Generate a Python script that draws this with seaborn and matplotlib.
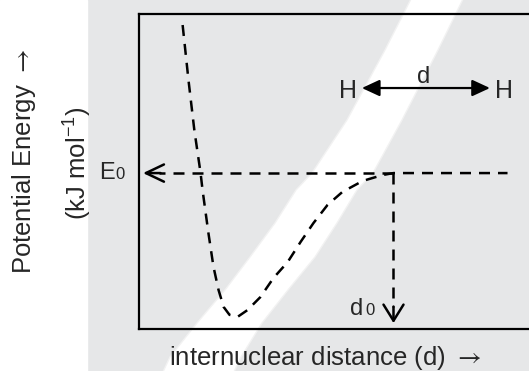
import matplotlib
matplotlib.use('Agg')
import matplotlib.pyplot as plt
from matplotlib.patches import Polygon, Rectangle
import seaborn as sns
import numpy as np

# potential energy curve (arbitrary units)
distance = [1.13, 1.28, 1.43, 1.59, 1.64, 1.79, 1.92, 2.05, 2.18, 2.33, 2.54, 2.79,
            3.12, 3.46, 3.82, 4.15, 4.48, 4.84, 5.22, 5.74, 6.25, 6.53, 7.99, 9.45]
energy = [7.72, 6.32, 5.05, 3.96, 3.53, 2.44, 1.58, 0.99, 0.56, 0.36, 0.31, 0.48,
          0.81, 1.30, 1.70, 2.21, 2.69, 3.15, 3.48, 3.76, 3.91, 3.96, 3.96, 3.96]
E0 = 3.96
d0 = 6.53
bond_start, bond_end, bond_y = 5.72, 9.00, 6.12

# decorative background band (figure pixels)
band_left = [(412, -3), (385, 50), (347, 120), (312, 173), (296, 190), (275, 223),
             (250, 257), (225, 290), (197, 323), (170, 357), (162, 374)]
band_right = [(233, 374), (241, 357), (262, 323), (288, 290), (315, 257), (337, 223),
              (357, 190), (373, 173), (402, 120), (438, 50), (464, -3)]

sns.set_style('white')
plt.rcParams['font.family'] = ['Liberation Sans', 'DejaVu Sans']
plt.rcParams['mathtext.fontset'] = 'custom'
plt.rcParams['mathtext.rm'] = 'Liberation Sans'
plt.rcParams['mathtext.sf'] = 'STIXGeneral'
plt.rcParams['mathtext.default'] = 'regular'

W, H = 529, 371
bg = '#e6e7e8'
fig = plt.figure(figsize=(W / 100, H / 100), dpi=100, facecolor=bg)

fig.patches.append(Rectangle((0, 0), 87 / W, 1, transform=fig.transFigure,
                             color='white', zorder=0))
pts = [(x / W, 1 - y / H) for x, y in band_left + band_right]
fig.patches.append(Polygon(pts, closed=True, transform=fig.transFigure,
                           facecolor='white', edgecolor='#f2f2f2', lw=1, zorder=0))

ax = fig.add_axes([138.5 / W, (H - 329) / H, (W - 138.5) / W, 315 / H])
ax.set_zorder(2)
ax.set_facecolor('none')
ax.set_xlim(0, 10)
ax.set_ylim(0, 8)
ax.set_xticks([])
ax.set_yticks([])
for side in ['left', 'top', 'bottom']:
    ax.spines[side].set_linewidth(1.6)
    ax.spines[side].set_color('black')
ax.spines['right'].set_visible(False)

dash = (0, (4.4, 3.2))
sns.lineplot(x=distance, y=energy, sort=False, estimator=None, color='black',
             lw=1.8, linestyle=dash, ax=ax, legend=False)

# E0 level arrow (to the left)
e0_tip = 0.115
ax.plot([d0, e0_tip + 0.4], [E0, E0], color='black', lw=1.8, linestyle=dash)
ax.annotate('', xy=(e0_tip, E0), xytext=(e0_tip + 0.45, E0),
            arrowprops=dict(arrowstyle='->,head_length=0.65,head_width=0.31',
                            lw=1.8, color='black', mutation_scale=20,
                            shrinkA=0, shrinkB=0))

# d0 arrow (down)
d0_tip = 0.15
ax.plot([d0, d0], [E0, d0_tip + 0.4], color='black', lw=1.8, linestyle=dash)
ax.annotate('', xy=(d0, d0_tip), xytext=(d0, d0_tip + 0.42),
            arrowprops=dict(arrowstyle='->,head_length=0.58,head_width=0.36',
                            lw=1.8, color='black', mutation_scale=20,
                            shrinkA=0, shrinkB=0))

# H <-> H
ax.annotate('', xy=(bond_start, bond_y), xytext=(bond_end, bond_y),
            arrowprops=dict(arrowstyle='<|-|>,head_length=0.54,head_width=0.25',
                            lw=1.6, color='black', mutation_scale=20,
                            shrinkA=0, shrinkB=0))
ax.text(bond_start - 0.12, bond_y - 0.25, 'H', fontsize=18, ha='right', va='baseline')
ax.text(bond_end + 0.13, bond_y - 0.25, 'H', fontsize=18, ha='left', va='baseline')
ax.text((bond_start + bond_end) / 2 - 0.07, bond_y + 0.13, 'd', fontsize=17,
        ha='center', va='baseline')

# labels inside / beside the box
ax.text(-1.01, E0 - 0.15, 'E', fontsize=17, ha='left', va='baseline', clip_on=False)
ax.text(-0.60, E0 - 0.15, '0', fontsize=12, ha='left', va='baseline', clip_on=False)
ax.text(d0 - 1.11, 0.36, 'd', fontsize=17, ha='left', va='baseline')
ax.text(d0 - 0.73, 0.36, '0', fontsize=12, ha='left', va='baseline')

arrow = r'$\mathsf{\rightarrow}$'
fig.text(24 / W, 1 - 161 / H, 'Potential Energy ' + arrow, fontsize=18.5,
         rotation=90, ha='center', va='center')
fig.text(78 / W, 1 - 163 / H, '(kJ mol$^{-1}$)', fontsize=18.5,
         rotation=90, ha='center', va='center')
fig.text(325 / W, 1 - 364.5 / H, 'internuclear distance (d) ' + arrow, fontsize=18.5,
         ha='center', va='baseline')

fig.savefig('out.png', dpi=100, facecolor=fig.get_facecolor())
